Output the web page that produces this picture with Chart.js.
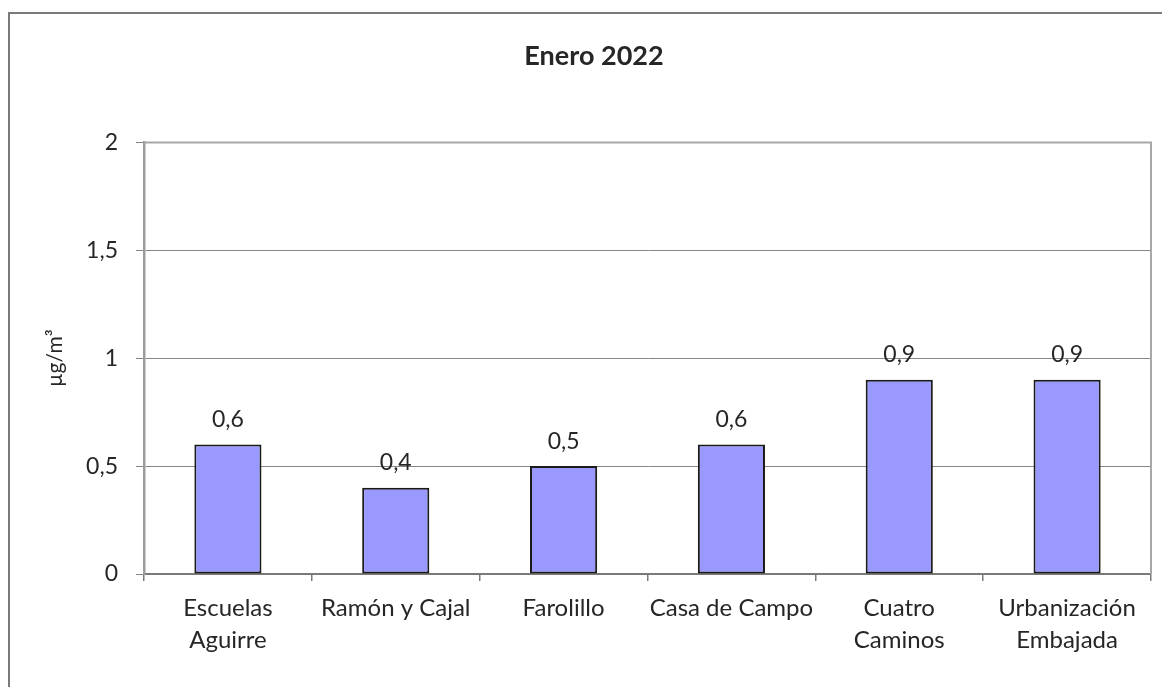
<!DOCTYPE html>
<html>
<head>
<meta charset="utf-8">
<script src="https://cdn.jsdelivr.net/npm/chart.js@4"></script>
<style>
html, body { margin: 0; padding: 0; background: #fff; overflow: hidden; }
#zone { position: relative; width: 1162px; height: 687px; }
#graphe { position: absolute; left: 0; top: 0; }
#cadre { position: absolute; left: 8px; top: 12px; width: 1200px; height: 800px; border: 2px solid #7a7a7a; pointer-events: none; }
</style>
</head>
<body>
<div id="zone">
<canvas id="graphe" width="1162" height="687"></canvas>
<div id="cadre"></div>
</div>
<script>
// données
const estaciones = [
  ["Escuelas", "Aguirre"],
  "Ramón y Cajal",
  "Farolillo",
  "Casa de Campo",
  ["Cuatro", "Caminos"],
  ["Urbanización", "Embajada"]
];
const valores = [0.6, 0.4, 0.5, 0.6, 0.9, 0.9];
const ticksY = [0, 0.5, 1, 1.5, 2];
const titulo = "Enero 2022";
const unidad = "µg/m³";

const texte = "#262626";
const police = "Lato, 'Open Sans', sans-serif";

function virgule(v) { return String(v).replace(".", ","); }

// valeurs au-dessus des barres
const etiquettes = {
  id: "etiquettes",
  afterDatasetsDraw(chart) {
    const ctx = chart.ctx;
    const meta = chart.getDatasetMeta(0);
    ctx.save();
    ctx.font = "23px " + police;
    ctx.fillStyle = texte;
    ctx.textAlign = "center";
    ctx.textBaseline = "middle";
    meta.data.forEach((barre, i) => {
      ctx.fillText(virgule(valores[i]), barre.x, barre.y - 25);
    });
    ctx.restore();
  }
};

// bord haut et droit de la zone de tracé
const bordure = {
  id: "bordure",
  beforeDatasetsDraw(chart) {
    const a = chart.chartArea;
    const ctx = chart.ctx;
    ctx.save();
    ctx.strokeStyle = "#a8a8a8";
    ctx.lineWidth = 2;
    ctx.beginPath();
    ctx.moveTo(a.left, a.top);
    ctx.lineTo(a.right, a.top);
    ctx.lineTo(a.right, a.bottom);
    ctx.stroke();
    ctx.restore();
  }
};

const ctx = document.getElementById("graphe").getContext("2d");

new Chart(ctx, {
  type: "bar",
  data: {
    labels: estaciones,
    datasets: [{
      data: valores,
      backgroundColor: "#9999ff",
      borderColor: "#1a1a1a",
      borderWidth: 2,
      borderSkipped: false,
      categoryPercentage: 1,
      barPercentage: 0.4
    }]
  },
  options: {
    responsive: false,
    animation: false,
    layout: { padding: { left: 37, right: 11, top: 0, bottom: 0 } },
    plugins: {
      legend: { display: false },
      tooltip: { enabled: false },
      title: {
        display: true,
        text: titulo,
        color: texte,
        font: { family: police, size: 27, weight: "bold", lineHeight: 1.2 },
        padding: { top: 40, bottom: 70 }
      }
    },
    scales: {
      x: {
        offset: true,
        grid: { offset: true, drawOnChartArea: false, drawTicks: true, tickLength: 7, color: "#7a7a7a", lineWidth: 1.5 },
        border: { color: "#7a7a7a", width: 2 },
        ticks: { color: texte, padding: 11, maxRotation: 0, autoSkip: false, font: { family: police, size: 24, lineHeight: 1.34 } },
        afterFit(scale) { scale.height = 113; }
      },
      y: {
        min: 0,
        max: 2,
        afterBuildTicks(scale) { scale.ticks = ticksY.map(v => ({ value: v })); },
        grid: { color: "#868686", lineWidth: 1, tickLength: 8 },
        border: { color: "#9c9c9c", width: 2.5 },
        ticks: { color: texte, padding: 18, font: { family: police, size: 23 }, callback: v => virgule(v) },
        title: { display: true, text: unidad, color: texte, font: { family: police, size: 21, lineHeight: 1.2 }, padding: { top: 6, bottom: 0 } },
        afterFit(scale) { scale.width = 107; }
      }
    }
  },
  plugins: [etiquettes, bordure]
});
</script>
</body>
</html>
